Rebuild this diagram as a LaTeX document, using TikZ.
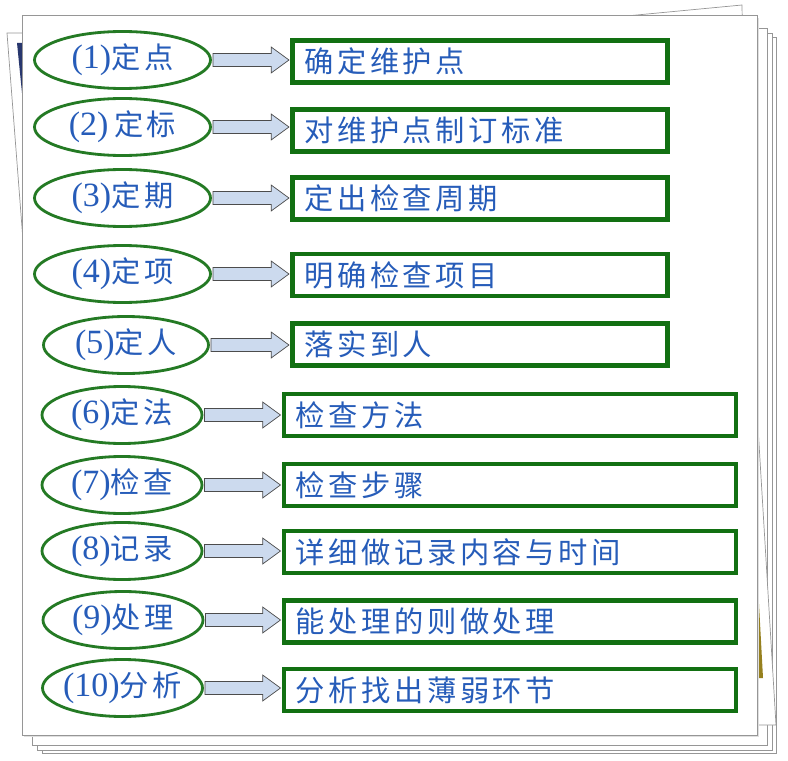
\documentclass[tikz,border=0pt]{standalone}
\usepackage{fontspec}
\setmainfont{Liberation Serif}
\newfontfamily\cjk[LetterSpace=12]{Noto Sans CJK SC}
\usetikzlibrary{calc,shapes.geometric}
\definecolor{inkblue}{RGB}{38,92,185}
\definecolor{ovalgreen}{RGB}{36,122,36}
\definecolor{boxgreen}{RGB}{18,112,18}
\definecolor{arrowfill}{RGB}{204,218,238}
\definecolor{pagegray}{RGB}{150,150,150}
\definecolor{mustard}{RGB}{150,128,30}
\definecolor{deepnavy}{RGB}{40,55,110}
% label inside an oval: latin part and chinese part
\newcommand\ovaltext[2]{\makebox[0pt]{{\fontsize{29}{32}\selectfont #1}{\fontsize{25}{28}\cjk #2}}}
% block arrow from an oval to its box
\newcommand\linkarrow[2]{%
  \draw[blockarr] let \p1=(#1.east), \p2=(#2.west) in
    (\x1+1pt,\y1+0.195cm) -- (\x2-0.57cm,\y1+0.195cm) -- (\x2-0.57cm,\y1+0.39cm) -- (\x2-1pt,\y1)
    -- (\x2-0.57cm,\y1-0.39cm) -- (\x2-0.57cm,\y1-0.195cm) -- (\x1+1pt,\y1-0.195cm) -- cycle;}

\begin{document}
\begin{tikzpicture}[x=0.03cm,y=-0.03cm,
  sheet/.style={draw=pagegray,fill=white,line width=0.6pt},
  tagoval/.style={draw=ovalgreen,line width=2.4pt,ellipse,inner sep=0pt,
    minimum height=1.71cm,text=inkblue},
  taskbox/.style={draw=boxgreen,line width=4pt,fill=white,inner xsep=0.36cm,
    minimum height=1.26cm,align=left,text=inkblue,font=\fontsize{25}{28}\cjk},
  blockarr/.style={draw=black!70,fill=arrowfill,line width=0.6pt}]
  \useasboundingbox (0,0) rectangle (788,761);

  % stacked sheets behind
  \draw[sheet] (42,37) rectangle (776,753);
  \draw[sheet] (37,33) rectangle (772,750);
  \draw[sheet] (32,28) rectangle (767,745);
  \draw[sheet] (300,100) -- (734,30) -- (776,725) -- (300,725) -- cycle;
  \fill[mustard] (757,586) -- (758,586) -- (763,678) -- (757,678) -- cycle;
  \draw[sheet] (500,28) -- (742,5) -- (745,200) -- (500,200) -- cycle;
  \draw[sheet] (7,33) -- (740,33) -- (740,720) -- (60,720) -- cycle;
  \fill[deepnavy] (17,43) -- (22,43) -- (22,93) -- cycle;
  \fill[black!12] (24,18) rectangle (759,737);
  \draw[sheet] (22,15) rectangle (757,735);

  \node[tagoval,minimum width=5.28cm] (e1) at (122.5,60) {\ovaltext{(1)}{定点}};
  \node[tagoval,minimum width=5.28cm] (e2) at (122.5,127) {\ovaltext{(2)\,}{定标}};
  \node[tagoval,minimum width=5.28cm] (e3) at (122.5,198) {\ovaltext{(3)}{定期}};
  \node[tagoval,minimum width=5.28cm] (e4) at (122.5,274) {\ovaltext{(4)}{定项}};
  \node[tagoval,minimum width=4.95cm] (e5) at (126,345) {\ovaltext{(5)}{定人}};
  \node[tagoval,minimum width=4.8cm] (e6) at (122,415) {\ovaltext{(6)}{定法}};
  \node[tagoval,minimum width=4.8cm] (e7) at (122,485) {\ovaltext{(7)}{检查}};
  \node[tagoval,minimum width=4.8cm] (e8) at (122,551) {\ovaltext{(8)}{记录}};
  \node[tagoval,minimum width=4.8cm] (e9) at (123,620) {\ovaltext{(9)}{处理}};
  \node[tagoval,minimum width=4.8cm] (e10) at (122.5,688) {\ovaltext{(10)}{分析}};

  \node[taskbox,text width=10.53cm] (b1) at (480,61.5) {确定维护点};
  \node[taskbox,text width=10.53cm] (b2) at (480,130.5) {对维护点制订标准};
  \node[taskbox,text width=10.53cm] (b3) at (480,198.5) {定出检查周期};
  \node[taskbox,text width=10.53cm] (b4) at (480,275) {明确检查项目};
  \node[taskbox,text width=10.53cm] (b5) at (480,344.5) {落实到人};
  \node[taskbox,text width=12.84cm] (b6) at (510,415) {检查方法};
  \node[taskbox,text width=12.84cm] (b7) at (510,485) {检查步骤};
  \node[taskbox,text width=12.84cm] (b8) at (510,552) {详细做记录内容与时间};
  \node[taskbox,text width=12.84cm] (b9) at (510,621.5) {能处理的则做处理};
  \node[taskbox,text width=12.84cm] (b10) at (510,690) {分析找出薄弱环节};

  \linkarrow{e1}{b1}
  \linkarrow{e2}{b2}
  \linkarrow{e3}{b3}
  \linkarrow{e4}{b4}
  \linkarrow{e5}{b5}
  \linkarrow{e6}{b6}
  \linkarrow{e7}{b7}
  \linkarrow{e8}{b8}
  \linkarrow{e9}{b9}
  \linkarrow{e10}{b10}
\end{tikzpicture}
\end{document}
